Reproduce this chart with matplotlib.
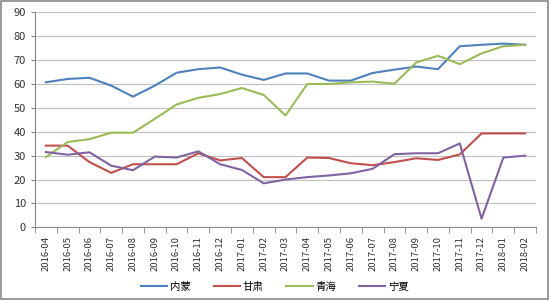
import matplotlib.pyplot as plt
import numpy as np
from matplotlib.patches import Rectangle

plt.rcParams['font.family'] = ['Noto Sans CJK SC', 'DejaVu Sans']

months = ['2016-04', '2016-05', '2016-06', '2016-07', '2016-08', '2016-09', '2016-10',
          '2016-11', '2016-12', '2017-01', '2017-02', '2017-03', '2017-04', '2017-05',
          '2017-06', '2017-07', '2017-08', '2017-09', '2017-10', '2017-11', '2017-12',
          '2018-01', '2018-02']
neimeng = [60.7, 62.1, 62.6, 59.3, 54.7, 59.3, 64.7, 66.2, 66.9, 63.9, 61.7, 64.4,
           64.4, 61.4, 61.4, 64.6, 66.0, 67.3, 66.2, 75.8, 76.4, 76.9, 76.4]
gansu = [34.2, 34.2, 27.3, 22.8, 26.4, 26.4, 26.4, 31.0, 28.0, 29.0, 21.0, 21.0,
         29.2, 29.0, 26.8, 26.0, 27.3, 28.9, 28.2, 30.5, 39.3, 39.3, 39.3]
qinghai = [29.4, 35.7, 36.9, 39.6, 39.6, 45.4, 51.4, 54.2, 55.8, 58.3, 55.4, 46.8,
           60.0, 60.0, 60.7, 61.0, 60.1, 69.0, 71.8, 68.3, 72.8, 75.8, 76.4]
ningxia = [31.5, 30.4, 31.4, 25.8, 23.9, 29.6, 29.2, 31.8, 26.4, 24.0, 18.4, 20.0,
           21.0, 21.7, 22.6, 24.5, 30.6, 31.0, 31.0, 35.1, 3.6, 29.2, 30.0]
names = ['内蒙', '甘肃', '青海', '宁夏']
colors = ['#4F81BD', '#C0504D', '#9BBB59', '#8064A2']

fig = plt.figure(figsize=(5.5, 3), dpi=100)
ax = fig.add_axes([0.0636, 0.2423, 0.911, 0.7167])

x = np.arange(len(months))
for vals, name, c in zip([neimeng, gansu, qinghai, ningxia], names, colors):
    ax.plot(x, vals, color=c, lw=1.5, label=name)

ax.set_xlim(-0.5, len(months) - 0.5)
ax.set_ylim(0, 90)
ax.set_yticks(range(0, 91, 10))
ax.yaxis.grid(True, color='#BFBFBF', lw=0.8)
ax.set_axisbelow(True)

ax.set_xticks(x)
ax.set_xticklabels(months, rotation=90, fontsize=6.8, color='#333333')
ax.set_xticks(np.arange(-0.5, len(months), 1), minor=True)
ax.tick_params(axis='x', which='major', length=0, pad=6)
ax.tick_params(axis='x', which='minor', length=4, color='#888888')
ax.tick_params(axis='y', labelsize=8, colors='#333333', length=3, color='#888888')

for s in ['top', 'right']:
    ax.spines[s].set_visible(False)
ax.spines['left'].set_color('#888888')
ax.spines['bottom'].set_color('#888888')

fig.legend(loc='center', bbox_to_anchor=(0.5, 0.045), ncol=4, frameon=False,
           fontsize=7.5, handlelength=2.5, columnspacing=2.2, handletextpad=0.3)

fig.patches.append(Rectangle((0.002, 0.003), 0.995, 0.993, transform=fig.transFigure,
                             fill=False, edgecolor='#888888', lw=1.2))

fig.savefig('out.png', dpi=100)
